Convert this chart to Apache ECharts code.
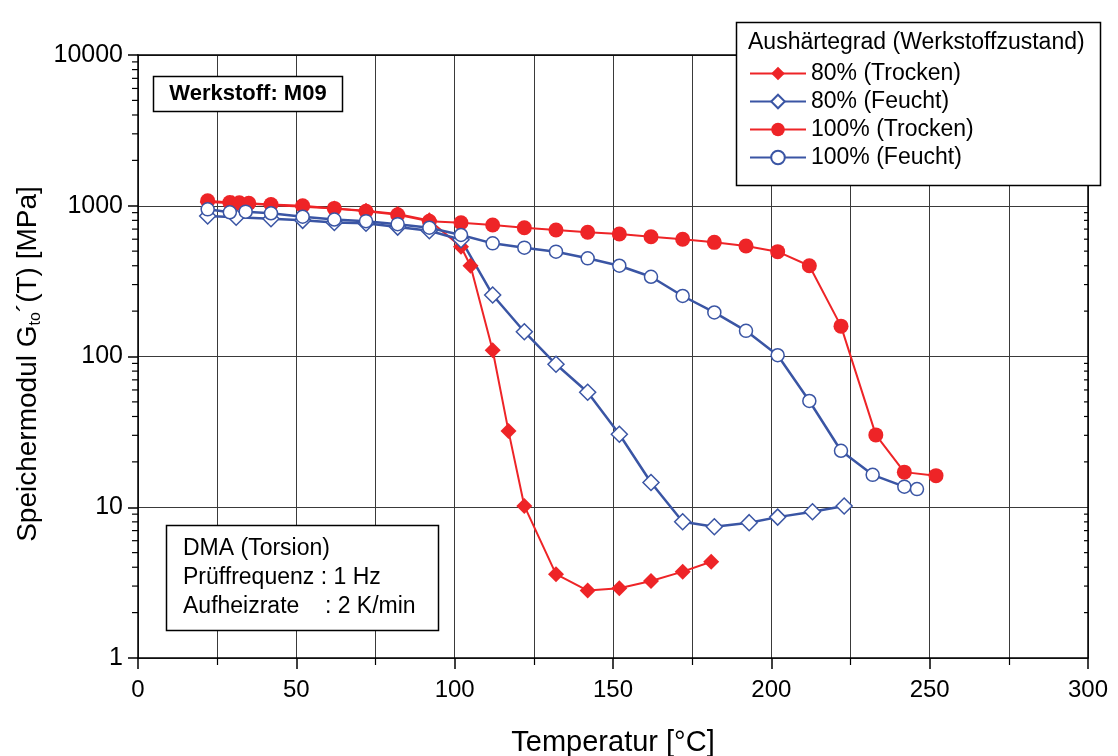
<!DOCTYPE html>
<html>
<head>
<meta charset="utf-8">
<script src="https://cdn.jsdelivr.net/npm/echarts@6/dist/echarts.min.js"></script>
<style>
	html, body { margin: 0; padding: 0; background: #fff; }
	#chart { width: 1118px; height: 756px; }
</style>
</head>
<body>
<div id="chart"></div>
<script>
// Temperatur [°C] / Speichermodul [MPa]
var t80Trocken = [22, 30, 35, 42, 52, 62, 72, 82, 92, 102, 105, 112, 117, 122, 132, 142, 152, 162, 172, 181];
var g80Trocken = [1060, 1040, 1030, 1010, 985, 960, 927, 882, 800, 535, 400, 110, 32, 10.2, 3.6, 2.8, 2.9, 3.24, 3.74, 4.35];

var t80Feucht = [22, 31, 42, 52, 62, 72, 82, 92, 102, 112, 122, 132, 142, 152, 162, 172, 182, 193, 202, 213, 223];
var g80Feucht = [855, 840, 820, 800, 775, 765, 722, 683, 595, 256, 146, 88.8, 57.9, 30.5, 14.6, 8.02, 7.43, 7.9, 8.6, 9.34, 10.2];

var t100Trocken = [22, 29, 32, 35, 42, 52, 62, 72, 82, 92, 102, 112, 122, 132, 142, 152, 162, 172, 182, 192, 202, 212, 222, 233, 242, 252];
var g100Trocken = [1080, 1050, 1045, 1040, 1020, 1000, 960, 920, 870, 790, 772, 745, 715, 691, 667, 650, 623, 599, 572, 541, 496, 400, 159, 30.2, 17.1, 16.2];

var t100Feucht = [22, 29, 34, 42, 52, 62, 72, 82, 92, 102, 112, 122, 132, 142, 152, 162, 172, 182, 192, 202, 212, 222, 232, 242, 246];
var g100Feucht = [947, 905, 914, 891, 846, 810, 790, 755, 715, 640, 563, 527, 496, 448, 400, 338, 252, 196, 148, 102, 50.7, 23.7, 16.4, 13.7, 13.2];

var seriesNames = ['80% (Trocken)', '80% (Feucht)', '100% (Trocken)', '100% (Feucht)'];
var xTicks = [0, 50, 100, 150, 200, 250, 300];
// log minor ticks 2..9 per decade
var yMinorTicks = [2, 3, 4, 5, 6, 7, 8, 9, 20, 30, 40, 50, 60, 70, 80, 90,
	200, 300, 400, 500, 600, 700, 800, 900, 2000, 3000, 4000, 5000, 6000, 7000, 8000, 9000];

var RED = '#ee2427', BLUE = '#3a55a4';
var FONT = '"Liberation Sans", Arial, sans-serif';

function pairs(xs, ys) {
	return xs.map(function (x, i) { return [x, ys[i]]; });
}

function lineSeries(name, xs, ys, color, symbol, filled, size, width) {
	return {
		name: name,
		type: 'line',
		data: pairs(xs, ys),
		symbol: symbol,
		symbolSize: size,
		showAllSymbol: true,
		lineStyle: { color: color, width: width },
		itemStyle: {
			color: filled ? color : '#fff',
			borderColor: color,
			borderWidth: filled ? 0 : 1.5
		},
		emphasis: { disabled: true },
		z: 3
	};
}

function boxText(x, y, text, font) {
	return {
		type: 'text',
		x: x, y: y,
		style: { text: text, font: font, fill: '#000', textVerticalAlign: 'middle' },
		z: 11
	};
}

var chart = echarts.init(document.getElementById('chart'), null, { renderer: 'canvas' });

var option = {
	animation: false,
	backgroundColor: '#fff',
	textStyle: { fontFamily: FONT },
	grid: { left: 138, right: 30, top: 55, bottom: 98, containLabel: false, outerBoundsMode: 'none' },
	xAxis: [{
		type: 'value',
		min: 0, max: 300, interval: 50,
		name: 'Temperatur [°C]',
		nameLocation: 'middle',
		nameGap: 70,
		nameTextStyle: { fontSize: 29, color: '#000', fontFamily: FONT },
		axisLine: { lineStyle: { color: '#000', width: 1.5 } },
		axisTick: { show: true, length: 11, lineStyle: { color: '#000', width: 1.5 } },
		minorTick: { show: true, splitNumber: 2, length: 7, lineStyle: { color: '#000', width: 1.2 } },
		axisLabel: {
			fontSize: 24, color: '#000', margin: 20, fontFamily: FONT,
			customValues: xTicks
		},
		splitLine: { show: true, lineStyle: { color: '#3a3a3a', width: 1 } },
		minorSplitLine: { show: true, lineStyle: { color: '#3a3a3a', width: 1 } }
	}, {
		type: 'value',
		position: 'top',
		min: 0, max: 300, interval: 50,
		axisLine: { show: true, onZero: false, lineStyle: { color: '#000', width: 1.5 } },
		axisTick: { show: false },
		axisLabel: { show: false },
		splitLine: { show: false }
	}],
	yAxis: [{
		type: 'log',
		logBase: 10,
		min: 1, max: 10000,
		axisLine: { show: true, lineStyle: { color: '#000', width: 1.5 } },
		axisTick: { show: true, length: 10, lineStyle: { color: '#000', width: 1.5 } },
		axisLabel: {
			fontSize: 25, color: '#000', margin: 15, fontFamily: FONT,
			formatter: function (v) { return String(Math.round(v)); }
		},
		splitLine: { show: true, lineStyle: { color: '#3a3a3a', width: 1 } }
	}, {
		type: 'log',
		logBase: 10,
		min: 1, max: 10000,
		position: 'right',
		axisLine: { show: true, onZero: false, lineStyle: { color: '#000', width: 1.5 } },
		axisTick: { show: false },
		axisLabel: { show: false },
		splitLine: { show: false }
	}],
	legend: {
		data: seriesNames,
		orient: 'vertical',
		left: 744,
		top: 57,
		itemWidth: 56,
		itemHeight: 17,
		itemGap: 5,
		selectedMode: false,
		z: 20,
		textStyle: { fontSize: 23, color: '#000', fontFamily: FONT, lineHeight: 23 }
	},
	graphic: [{
		type: 'rect',
		shape: { x: 736.5, y: 22.5, width: 364, height: 163 },
		style: { fill: '#fff', stroke: '#000', lineWidth: 1.5 },
		z: 10
	},
	boxText(748, 43, 'Aushärtegrad (Werkstoffzustand)', '23px ' + FONT),
	{
		type: 'rect',
		shape: { x: 153.5, y: 76.5, width: 189, height: 35 },
		style: { fill: '#fff', stroke: '#000', lineWidth: 1.5 },
		z: 10
	}, {
		type: 'text',
		x: 248, y: 94,
		style: {
			text: 'Werkstoff: M09',
			font: 'bold 22px ' + FONT,
			fill: '#000',
			textAlign: 'center',
			textVerticalAlign: 'middle'
		},
		z: 11
	}, {
		type: 'rect',
		shape: { x: 166.5, y: 525.5, width: 272, height: 105 },
		style: { fill: '#fff', stroke: '#000', lineWidth: 1.5 },
		z: 10
	},
	boxText(183, 549, 'DMA (Torsion)', '23px ' + FONT),
	boxText(183, 578, 'Prüffrequenz : 1 Hz', '23px ' + FONT),
	boxText(183, 607, 'Aufheizrate    : 2 K/min', '23px ' + FONT),
	{
		type: 'text',
		x: 28, y: 364,
		rotation: Math.PI / 2,
		style: {
			text: 'Speichermodul G{sub|to}´(T) [MPa]',
			font: '28px ' + FONT,
			fill: '#000',
			textAlign: 'center',
			textVerticalAlign: 'middle',
			lineHeight: 32,
			rich: {
				sub: { fontSize: 16, fontFamily: FONT, fill: '#000', verticalAlign: 'bottom', lineHeight: 32 }
			}
		},
		z: 11
	}],
	series: [
		lineSeries(seriesNames[0], t80Trocken, g80Trocken, RED, 'diamond', true, [16, 16], 2),
		lineSeries(seriesNames[1], t80Feucht, g80Feucht, BLUE, 'diamond', false, [16, 16], 2.5),
		lineSeries(seriesNames[2], t100Trocken, g100Trocken, RED, 'circle', true, 15, 2),
		lineSeries(seriesNames[3], t100Feucht, g100Feucht, BLUE, 'circle', false, 13, 2.5),
		{
			// minor ticks of the log axis, left outward / right inward
			type: 'custom',
			silent: true,
			xAxisIndex: 0,
			yAxisIndex: 0,
			data: yMinorTicks.map(function (v) { return [0, v]; }),
			renderItem: function (params, api) {
				var v = api.value(1);
				var l = api.coord([0, v]);
				var r = api.coord([300, v]);
				return {
					type: 'group',
					children: [{
						type: 'line',
						shape: { x1: l[0] - 6, y1: l[1], x2: l[0], y2: l[1] },
						style: { stroke: '#000', lineWidth: 1.2 }
					}, {
						type: 'line',
						shape: { x1: r[0] - 4, y1: r[1], x2: r[0], y2: r[1] },
						style: { stroke: '#000', lineWidth: 1.2 }
					}]
				};
			},
			z: 2
		}
	]
};

chart.setOption(option);
</script>
</body>
</html>
